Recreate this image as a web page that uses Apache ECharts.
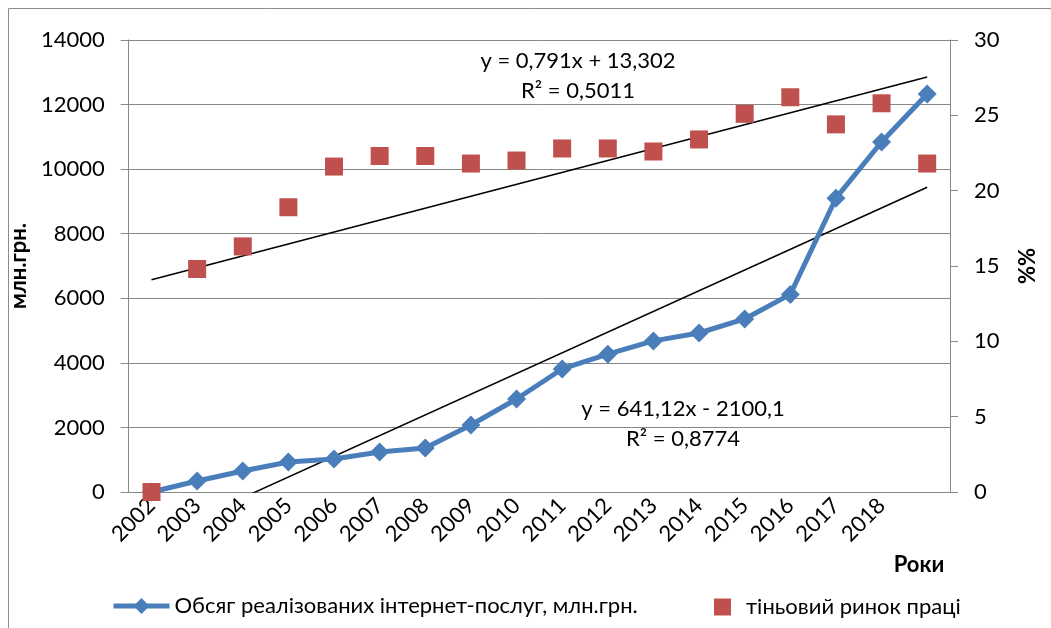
<!DOCTYPE html>
<html><head><meta charset="utf-8">
<script src="https://cdn.jsdelivr.net/npm/echarts@6/dist/echarts.min.js"></script>
<style>html,body{margin:0;padding:0;background:#fff}#c{width:1051px;height:628px}</style>
</head><body><div id="c"></div>
<script>
const categories = ['2002','2003','2004','2005','2006','2007','2008','2009','2010','2011','2012','2013','2014','2015','2016','2017','2018',''];
const internetServices = [0,340,650,930,1020,1240,1360,2075,2880,3810,4270,4680,4925,5360,6120,9100,10840,12330];
const shadowLabour = [0,14.8,16.3,18.9,21.6,22.3,22.3,21.8,22.0,22.8,22.8,22.6,23.4,25.1,26.2,24.4,25.8,21.8];
// trendline end values (x = 1 and x = 18) from the displayed equations
const blueTrendEnds = [-1459.0, 9440.1];
const redTrendEnds = [14.093, 27.54];
const leftTicks = [0,2000,4000,6000,8000,10000,12000,14000];
const rightTicks = [0,5,10,15,20,25,30];
const eq1 = ['y = 0,791x + 13,302','R² = 0,5011'];
const eq2 = ['y = 641,12x - 2100,1','R² = 0,8774'];
const name1 = 'Обсяг реалізованих інтернет-послуг, млн.грн.';
const name2 = 'тіньовий ринок праці';

const FONT = 'Lato';
const FS = 22;
const chart = echarts.init(document.getElementById('c'), null, {renderer:'canvas'});
const gray = '#888888';
chart.setOption({
  animation:false,
  textStyle:{fontFamily:FONT},
  graphic:[
    {type:'rect', shape:{x:8.5,y:8.5,width:1060,height:640}, style:{fill:null, stroke:'#8c8c8c', lineWidth:1}, z:-1},
    {type:'text', style:{text:eq1[0]+'\n'+eq1[1], x:578, y:46, textAlign:'center', font:FS+'px '+FONT, fill:'#000', lineHeight:30}},
    {type:'text', style:{text:eq2[0]+'\n'+eq2[1], x:683, y:394, textAlign:'center', font:FS+'px '+FONT, fill:'#000', lineHeight:30}},
    {type:'text', style:{text:'Роки', x:919, y:554, textAlign:'center', font:'bold '+FS+'px '+FONT, fill:'#000'}}
  ],
  grid:{left:128, right:101, top:40, bottom:136, containLabel:false},
  legend:[
    {left:106, top:590, data:[name1], itemWidth:56, itemHeight:20, lineStyle:{width:5}, textStyle:{fontSize:FS, fontFamily:FONT, color:'#000'}, selectedMode:false},
    {left:709, top:591, data:[name2], itemWidth:17, itemHeight:17, textStyle:{fontSize:FS, fontFamily:FONT, color:'#000', padding:[0,0,0,10]}, selectedMode:false}
  ],
  xAxis:{type:'category', data:categories, boundaryGap:true,
    axisLine:{lineStyle:{color:gray}}, axisTick:{length:8, lineStyle:{color:gray}},
    axisLabel:{rotate:45, fontSize:FS, color:'#000', margin:10, interval:0}},
  yAxis:[
    {type:'value', min:0, max:14000, interval:2000, position:'left',
     name:'млн.грн.', nameLocation:'middle', nameRotate:90, nameGap:86,
     nameTextStyle:{fontWeight:'bold', fontSize:FS, color:'#000'},
     axisLine:{show:true, lineStyle:{color:gray}}, axisTick:{show:true, length:8, lineStyle:{color:gray}},
     axisLabel:{fontSize:FS, color:'#000', margin:24, formatter:v=>String(v)},
     splitLine:{lineStyle:{color:gray, width:1}}},
    {type:'value', min:0, max:30, interval:5, position:'right',
     name:'%%', nameLocation:'middle', nameRotate:-90, nameGap:64,
     nameTextStyle:{fontWeight:'bold', fontSize:FS, color:'#000'},
     axisLine:{show:true, lineStyle:{color:gray}}, axisTick:{show:true, length:8, lineStyle:{color:gray}},
     axisLabel:{fontSize:FS, color:'#000', margin:24}, splitLine:{show:false}}
  ],
  series:[
    {name:name1, type:'line', data:internetServices, yAxisIndex:0, symbol:'diamond', symbolSize:19,
     lineStyle:{color:'#4a7ebb', width:5}, itemStyle:{color:'#4a7ebb', opacity:1}, z:3},
    {name:name2, type:'scatter', data:shadowLabour, yAxisIndex:1, symbol:'rect', symbolSize:18,
     itemStyle:{color:'#c0504d', opacity:1}, z:4},
    {name:'trend1', type:'line', yAxisIndex:0, data:[[0,blueTrendEnds[0]],[17,blueTrendEnds[1]]], symbol:'none',
     lineStyle:{color:'#000', width:1.5}, clip:true, z:2},
    {name:'trend2', type:'line', yAxisIndex:1, data:[[0,redTrendEnds[0]],[17,redTrendEnds[1]]], symbol:'none',
     lineStyle:{color:'#000', width:1.5}, clip:true, z:2}
  ]
});
</script></body></html>
